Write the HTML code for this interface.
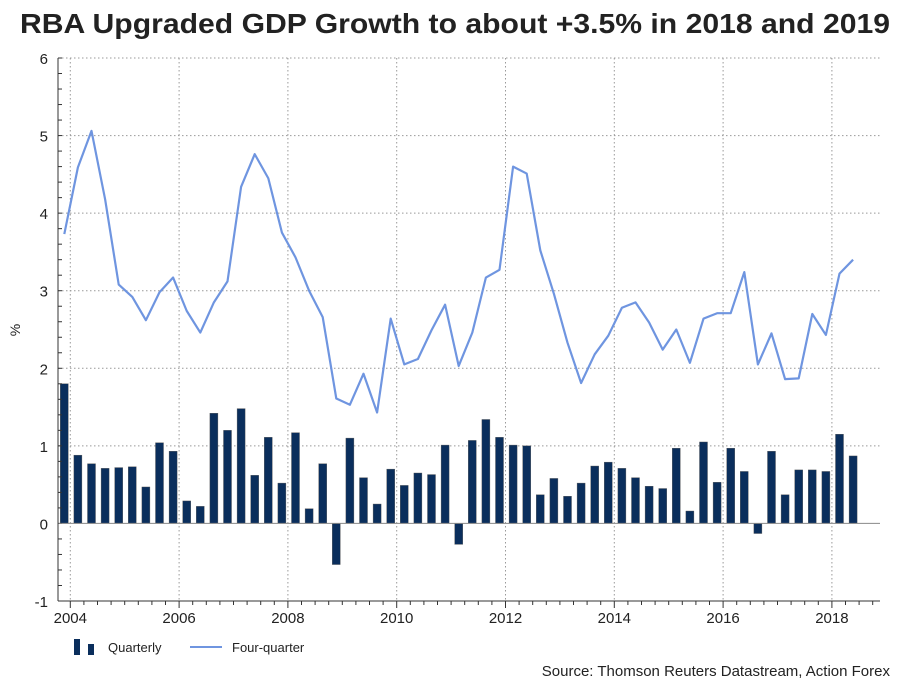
<!DOCTYPE html>
<html><head><meta charset="utf-8"><style>
body{margin:0;background:#fff;font-family:"Liberation Sans",sans-serif;}
svg text{font-family:"Liberation Sans",sans-serif;}
</style></head><body>
<svg id="c" width="909" height="682" xmlns="http://www.w3.org/2000/svg">
<text x="455" y="33" text-anchor="middle" font-size="28" font-weight="bold" fill="#222" textLength="870" lengthAdjust="spacingAndGlyphs">RBA Upgraded GDP Growth to about +3.5% in 2018 and 2019</text>
<g id="grid"></g><g id="bars"></g><g id="line"></g><g id="axes"></g>
<text transform="translate(20,330) rotate(-90)" text-anchor="middle" font-size="14" fill="#222">%</text>
<g>
<g><rect x="74" y="639" width="6" height="16" fill="#0a2e5c"/><rect x="88" y="644" width="6" height="11" fill="#0a2e5c"/><text x="108" y="652" font-size="13" fill="#222">Quarterly</text></g>
<g><line x1="190" y1="647" x2="222" y2="647" stroke="#6f95e0" stroke-width="2"/><text x="232" y="652" font-size="13" fill="#222">Four-quarter</text></g>
</g>
<text x="890" y="676" text-anchor="end" font-size="15" fill="#222">Source: Thomson Reuters Datastream, Action Forex</text>
</svg>
<script>
const yTicks=[6,5,4,3,2,1,0,-1];
const xYears=[2004,2006,2008,2010,2012,2014,2016,2018];
const quarterly=[1.80,0.88,0.77,0.71,0.72,0.73,0.47,1.04,0.93,0.29,0.22,1.42,1.20,1.48,0.62,1.11,0.52,1.17,0.19,0.77,-0.53,1.10,0.59,0.25,0.70,0.49,0.65,0.63,1.01,-0.27,1.07,1.34,1.11,1.01,1.00,0.37,0.58,0.35,0.52,0.74,0.79,0.71,0.59,0.48,0.45,0.97,0.16,1.05,0.53,0.97,0.67,-0.13,0.93,0.37,0.69,0.69,0.67,1.15,0.87];
const fourQuarter=[3.73,4.59,5.06,4.18,3.08,2.92,2.62,2.98,3.17,2.74,2.46,2.85,3.12,4.34,4.76,4.45,3.75,3.43,3.00,2.66,1.61,1.53,1.93,1.43,2.64,2.05,2.12,2.49,2.82,2.03,2.46,3.17,3.27,4.60,4.51,3.52,2.96,2.33,1.81,2.18,2.42,2.78,2.85,2.59,2.24,2.50,2.07,2.64,2.71,2.71,3.24,2.05,2.45,1.86,1.87,2.70,2.43,3.22,3.40];
const NS='http://www.w3.org/2000/svg';
const L=58,R=880,T=58,B=601;
function y(v){return T+(6-v)*(B-T)/7;}
function xYear(t){return 70.3+(t-2004)*54.4;}
function xIdx(i){return 64.3+i*13.6;}
function mk(tag,attrs,parent){const e=document.createElementNS(NS,tag);for(const k in attrs)e.setAttribute(k,attrs[k]);parent.appendChild(e);return e;}
const grid=document.getElementById('grid'),axes=document.getElementById('axes'),bars=document.getElementById('bars'),line=document.getElementById('line');
yTicks.forEach(v=>{
  if(v!==0&&v!==-1){const g=mk('line',{x1:L,x2:R,y1:y(v),y2:y(v),stroke:'#999','stroke-dasharray':'1.5,2.5'},grid);
  
  }
  const t=mk('text',{x:L-10,y:y(v)+6,'text-anchor':'end','font-size':'15',fill:'#222'},axes);t.textContent=v;
  
  
});
for(let v=-1;v<=6.001;v+=0.2){mk('line',{x1:L,x2:L+4,y1:y(v),y2:y(v),stroke:'#333'},axes);}
xYears.forEach(yr=>{
  const g=mk('line',{x1:xYear(yr),x2:xYear(yr),y1:T,y2:B,stroke:'#999','stroke-dasharray':'1.5,2.5'},grid);
  
  
  const t=mk('text',{x:xYear(yr),y:B+22,'text-anchor':'middle','font-size':'15',fill:'#222'},axes);t.textContent=yr;
  
  
});
for(let q=2003.75;q<=2019;q+=0.25){const x=xYear(q);if(x>L&&x<=R)mk('line',{x1:x,x2:x,y1:B,y2:B+(Math.abs(q-Math.round(q/2)*2)<0.01?7:4),stroke:'#333'},axes);}
mk('line',{x1:L,x2:R,y1:y(0),y2:y(0),stroke:'#888','stroke-width':1},axes);
mk('line',{x1:L,x2:L,y1:T,y2:B,stroke:'#333'},axes);
mk('line',{x1:L,x2:R,y1:B,y2:B,stroke:'#333'},axes);
quarterly.forEach((v,i)=>{
  const r=mk('rect',{x:xIdx(i)-4,y:Math.min(y(v),y(0)),width:8,height:Math.abs(y(v)-y(0)),fill:'#0a2e5c',stroke:'#555','stroke-width':0.4},bars);
  
  
});
const p=mk('polyline',{points:fourQuarter.map((v,i)=>xIdx(i)+','+y(v)).join(' '),fill:'none',stroke:'#6f95e0','stroke-width':2.2,'stroke-linejoin':'round'},line);


</script>
</body></html>
